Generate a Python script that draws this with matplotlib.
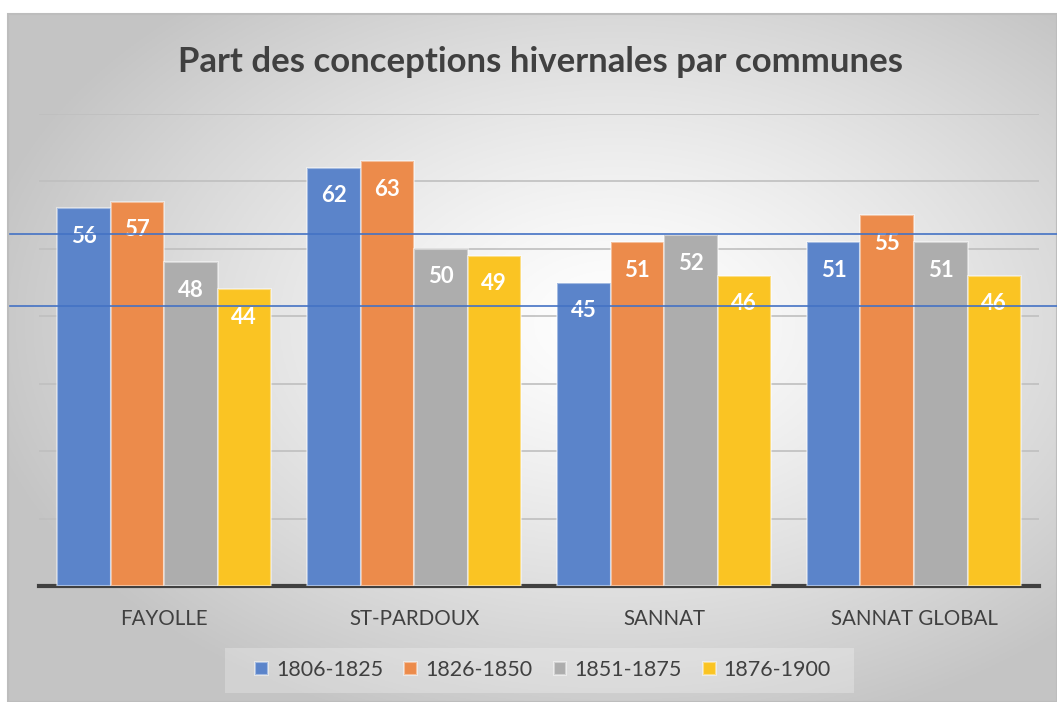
import numpy as np
import matplotlib
matplotlib.use("Agg")
import matplotlib.pyplot as plt
from matplotlib.lines import Line2D
from matplotlib.patches import Rectangle

categories = ["FAYOLLE", "ST-PARDOUX", "SANNAT", "SANNAT GLOBAL"]
series_names = ["1806-1825", "1826-1850", "1851-1875", "1876-1900"]
s1806 = [56, 62, 45, 51]
s1826 = [57, 63, 51, 55]
s1851 = [48, 50, 52, 51]
s1876 = [44, 49, 46, 46]
series = [s1806, s1826, s1851, s1876]
colors = ["#5B84CA", "#EC8B4B", "#ADADAD", "#FAC423"]
title = "Part des conceptions hivernales par communes"

W, H = 1057, 702
fig = plt.figure(figsize=(W / 100, H / 100), dpi=100)
fig.patch.set_facecolor("white")

FONT = ["Lato", "DejaVu Sans"]

# background with radial gradient
bx0, by0, bx1, by1 = 8, 14, 1057, 702  # pixel box (top-left origin)
bg = fig.add_axes([bx0 / W, 0, (bx1 - bx0) / W, (by1 - by0) / H])
bg.set_axis_off()
nx, ny = 400, 300
xx, yy = np.meshgrid(np.linspace(0, 1, nx), np.linspace(0, 1, ny))
cx, cy = 0.58, 0.55
r = np.sqrt(((xx - cx) / 0.62) ** 2 + ((yy - cy) / 0.62) ** 2)
r = np.clip(r, 0, 1)
val = 1.0 - (1.0 - 0.77) * r ** 1.3
img = np.dstack([val, val, val])
bg.imshow(img, extent=[0, 1, 0, 1], aspect="auto", origin="lower", zorder=0)
bg.set_xlim(0, 1)
bg.set_ylim(0, 1)
bg.add_patch(Rectangle((0, 0), 1, 1, fill=False, edgecolor="#bdbdbd", lw=1.5,
                       transform=bg.transAxes, clip_on=False))

# main axes
left, right, top, bottom = 39, 1039, 114, 586
ax = fig.add_axes([left / W, (H - bottom) / H, (right - left) / W, (bottom - top) / H])
ax.patch.set_alpha(0)
ax.set_ylim(0, 70)
ax.set_xlim(-0.5, len(categories) - 0.5)
for s in ["top", "right", "left"]:
    ax.spines[s].set_visible(False)
ax.spines["bottom"].set_color("#404040")
ax.spines["bottom"].set_linewidth(3)
ax.set_yticks(np.arange(10, 71, 10))
ax.yaxis.grid(True, color="#bfbfbf", lw=1.2)
ax.set_axisbelow(True)
ax.tick_params(axis="y", left=False, labelleft=False)
ax.tick_params(axis="x", bottom=False, pad=13)
x = np.arange(len(categories))
ax.set_xticks(x)
ax.set_xticklabels(categories, fontsize=14.8, color="#404040", family=FONT)

bw = 53.5 / 250
n = len(series)
handles = []
for i, (vals, col, name) in enumerate(zip(series, colors, series_names)):
    pos = x + (i - (n - 1) / 2) * bw
    bars = ax.bar(pos, vals, width=bw, color=col, edgecolor=(1, 1, 1, 0.45),
                  linewidth=1.5, label=name, zorder=3)
    handles.append(bars)
    for p, v in zip(pos, vals):
        ax.annotate(str(v), (p, v), xytext=(0, -28), textcoords="offset pixels",
                    ha="center", va="center", color="white", fontsize=16,
                    fontweight="bold", family=FONT, zorder=5)

fig.text(540 / W, 1 - 62 / H, title, ha="center", va="center", fontsize=25,
         fontweight="bold", color="#404040", family=FONT)

# legend box
lx0, lx1, ly0, ly1 = 225, 854, 648, 693
fig.add_artist(Rectangle((lx0 / W, 1 - ly1 / H), (lx1 - lx0) / W, (ly1 - ly0) / H,
                         transform=fig.transFigure, facecolor="white", alpha=0.25,
                         edgecolor="none"))
leg = fig.legend(handles=handles, labels=series_names, loc="center",
                 bbox_to_anchor=(543 / W, 1 - 670 / H), ncol=4, frameon=False,
                 prop={"family": FONT, "size": 15.5}, labelcolor="#404040",
                 handlelength=0.6, handleheight=0.6, handletextpad=0.35,
                 columnspacing=1.0)

# blue overlay lines
for yp in [234, 306]:
    fig.add_artist(Line2D([10 / W, 1.0], [1 - yp / H, 1 - yp / H],
                          transform=fig.transFigure, color="#4472C4", lw=1.2, zorder=10))

fig.savefig("out.png", dpi=100, facecolor="white")
